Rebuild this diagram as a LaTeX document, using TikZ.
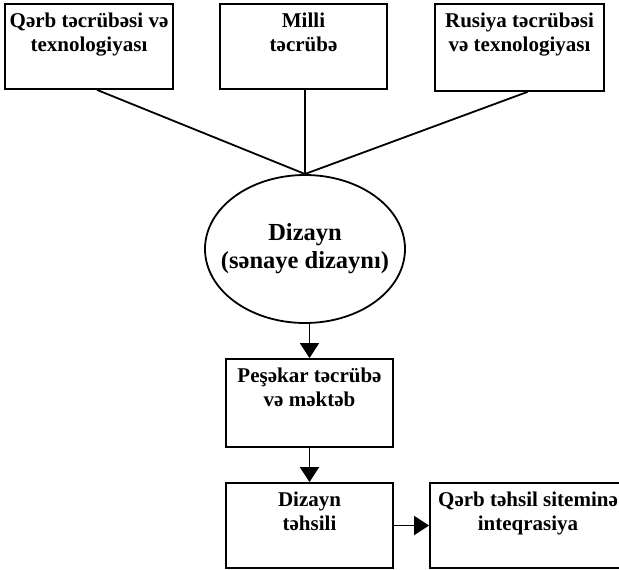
\documentclass[tikz,border=0pt]{standalone}
\usepackage{fontspec}
\setmainfont{Liberation Serif}
\usetikzlibrary{arrows.meta,shapes.geometric}

\tikzset{
	blok/.style={draw, inner sep=0pt},
	metn/.style={anchor=north, align=center, inner sep=0pt, yshift=-9pt, font=\bfseries\fontsize{21}{23.5}\selectfont},
	ox/.style={-{Triangle[length=15pt,width=19pt]}},
}

\begin{document}
\begin{tikzpicture}[x=1pt, y=-1pt, line width=1.8pt]
	\useasboundingbox (0,0) rectangle (619,570);

	\node[blok, minimum width=168, minimum height=85, label={[metn]north:Qərb təcrübəsi və\\texnologiyası}] (qerb) at (89, 46.5) {};
	\node[blok, minimum width=167, minimum height=85, label={[metn]north:Milli\\təcrübə}] (milli) at (303.5, 46.5) {};
	\node[blok, minimum width=169, minimum height=87, label={[metn]north:Rusiya təcrübəsi\\və texnologiyası}] (rusiya) at (519.5, 47.5) {};

	\coordinate (kesisme) at (305, 174);
	\draw ([xshift=8]qerb.south) -- (kesisme);
	\draw ([xshift=1.5]milli.south) -- (kesisme);
	\draw ([xshift=8]rusiya.south) -- (kesisme);

	\node[ellipse, draw, inner sep=0pt, minimum width=200, minimum height=148, label={[align=center, inner sep=0pt, font=\bfseries\fontsize{24.5}{28}\selectfont]center:Dizayn\\(sənaye dizaynı)}] (dizayn) at (305, 249) {};

	\node[blok, minimum width=167, minimum height=88, label={[metn]north:Peşəkar təcrübə\\və məktəb}] (peshekar) at (309.5, 403) {};
	\node[blok, minimum width=167, minimum height=85, label={[metn]north:Dizayn\\təhsili}] (tehsil) at (309.5, 525.5) {};
	\node[blok, minimum width=196, minimum height=85, label={[metn]north:Qərb təhsil siteminə\\inteqrasiya}] (inteqrasiya) at (528, 525.5) {};

	\draw[ox] (dizayn.south -| peshekar.north) -- (peshekar.north);
	\draw[ox] (peshekar.south) -- (tehsil.north);
	\draw[ox] (tehsil.east) -- (inteqrasiya.west);

\end{tikzpicture}
\end{document}
